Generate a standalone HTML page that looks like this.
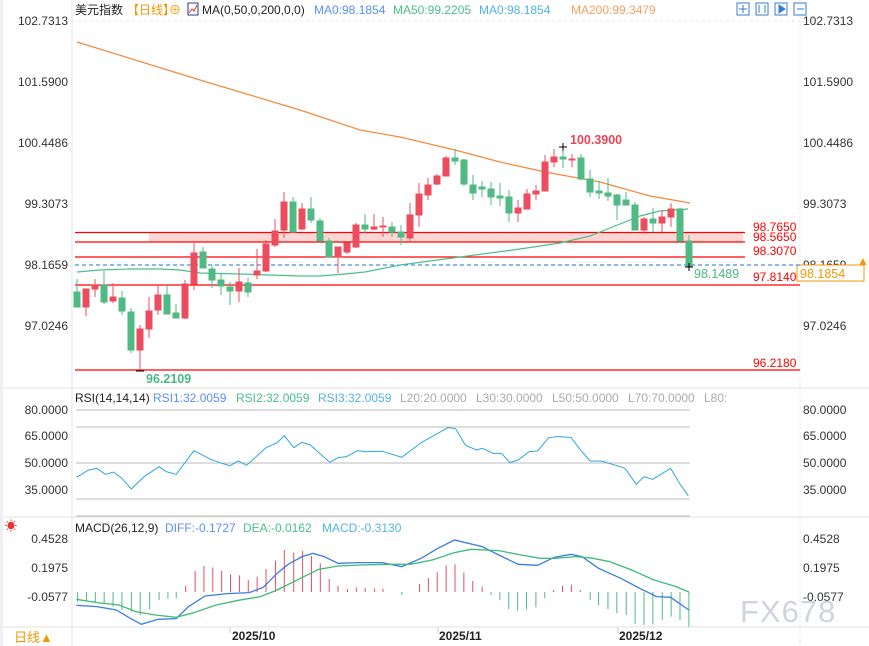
<!DOCTYPE html>
<html><head><meta charset="utf-8"><style>
body{margin:0;background:#fff;width:869px;height:646px;overflow:hidden;font-family:"Liberation Sans","Noto Sans CJK SC",sans-serif;}
svg{position:absolute;left:0;top:0}
text{font-family:"Liberation Sans","Noto Sans CJK SC",sans-serif;font-size:12px}
.ax{font-size:12.5px;fill:#333}
.ns{vector-effect:non-scaling-stroke}
</style></head><body>
<svg width="869" height="646" viewBox="0 0 869 646">
<line x1="72" y1="0" x2="72" y2="646" stroke="#e6e6e6"/>
<line x1="800" y1="0" x2="800" y2="646" stroke="#e6e6e6" stroke-dasharray="2,2"/>
<line x1="0" y1="388" x2="869" y2="388" stroke="#e0e0e0"/>
<line x1="0" y1="517" x2="869" y2="517" stroke="#e0e0e0"/>
<line x1="0" y1="627" x2="869" y2="627" stroke="#e0e0e0"/>
<line x1="72" y1="21" x2="800" y2="21" stroke="#e8e8e8" stroke-dasharray="3,3"/>
<rect x="0" y="0" width="3" height="646" fill="#eef0f4"/>

<text x="75" y="14" fill="#222">美元指数</text>
<text x="127" y="14" fill="#f39800">【日线】</text>
<text x="169" y="14" fill="#f39800">⊕</text>
<rect x="188" y="3" width="10" height="12" fill="none" stroke="#2a3a8a"/>
<polyline points="189,13 192,9 194,11 197,5" fill="none" stroke="#d33" stroke-width="1"/>
<text x="202" y="14" fill="#222">MA(0,50,0,200,0,0)</text>
<text x="314" y="14" fill="#5b8ff9">MA0:98.1854</text>
<text x="393" y="14" fill="#49c08a">MA50:99.2205</text>
<text x="479" y="14" fill="#53b3e4">MA0:98.1854</text>
<text x="571" y="14" fill="#f4a060">MA200:99.3479</text>
<g fill="none" stroke="#3a7bd5">
<rect x="737" y="3" width="12" height="12"/><rect x="756" y="3" width="12" height="12"/><rect x="775" y="3" width="12" height="12"/><rect x="794" y="3" width="12" height="12"/>
</g>
<g stroke="#3a7bd5"><line x1="743" y1="5" x2="743" y2="13"/><line x1="739" y1="9" x2="747" y2="9"/><line x1="759" y1="5" x2="759" y2="13"/><line x1="765" y1="5" x2="765" y2="13"/><polygon points="779,5 785,9 779,13" fill="#3a7bd5"/><line x1="797" y1="9" x2="804" y2="9"/></g>

<g class="ax" text-anchor="end">
<text x="68" y="25">102.7313</text><text x="68" y="86">101.5900</text><text x="68" y="147">100.4486</text><text x="68" y="208">99.3073</text><text x="68" y="269">98.1659</text><text x="68" y="330">97.0246</text>
</g>
<g class="ax">
<text x="803" y="25">102.7313</text><text x="803" y="86">101.5900</text><text x="803" y="147">100.4486</text><text x="803" y="208">99.3073</text><text x="803" y="269">98.1659</text><text x="803" y="330">97.0246</text>
</g>
<rect x="797" y="265" width="67" height="16" fill="#fff" stroke="#f39800"/>
<text x="800" y="278" class="ax" style="fill:#f39800">98.1854</text>
<text x="857" y="265" fill="#f39800" font-size="10">▲</text>

<rect x="149" y="232" width="594" height="10" fill="#ffd6d6"/>
<g stroke="#f00" stroke-width="1.2">
<line x1="75" y1="232.5" x2="745" y2="232.5"/><line x1="75" y1="242" x2="745" y2="242"/><line x1="75" y1="257" x2="745" y2="257"/><line x1="75" y1="285" x2="800" y2="285"/><line x1="75" y1="370" x2="800" y2="370"/>
</g>
<line x1="75" y1="265" x2="800" y2="265" stroke="#1e6fd9" stroke-dasharray="4,3"/>
<g class="ax">
<text x="753" y="231" style="fill:#f00">98.7650</text><text x="753" y="241" style="fill:#f00">98.5650</text><text x="753" y="255" style="fill:#f00">98.3070</text><text x="753" y="281" style="fill:#f00">97.8140</text><text x="753" y="367" style="fill:#f00">96.2180</text>
</g>

<polyline fill="none" stroke="#f4893a" stroke-width="1.2" points="77,42 200,80 300,110 360,130 400,137 455,150 500,162 545,172 600,182 650,196 690,203"/>
<polyline fill="none" stroke="#49c08a" stroke-width="1.2" points="77,272 100,270 130,269 160,269 180,270 200,273 240,274 300,276 320,276 345,274 365,272 400,265 460,257 520,249 560,243 590,236 615,226 640,216 660,211 688,209"/>

<g>
<g stroke="#4fba83" fill="#4fba83">
<line x1="77" y1="279" x2="77" y2="307"/><rect x="74" y="292" width="6" height="15"/>
<line x1="104" y1="271" x2="104" y2="304"/><rect x="101" y="285" width="6" height="17"/>
<line x1="122" y1="291" x2="122" y2="315"/><rect x="119" y="298" width="6" height="13"/>
<line x1="131" y1="308" x2="131" y2="353"/><rect x="128" y="312" width="6" height="38"/>
<line x1="167" y1="285" x2="167" y2="314"/><rect x="164" y="295" width="6" height="19"/>
<line x1="176" y1="304" x2="176" y2="318"/><rect x="173" y="313" width="6" height="5"/>
<line x1="203" y1="247" x2="203" y2="268"/><rect x="200" y="252" width="6" height="16"/>
<line x1="212" y1="266" x2="212" y2="288"/><rect x="209" y="269" width="6" height="11"/>
<line x1="221" y1="273" x2="221" y2="295"/><rect x="218" y="280" width="6" height="6"/>
<line x1="230" y1="282" x2="230" y2="305"/><rect x="227" y="287" width="6" height="4"/>
<line x1="248" y1="278" x2="248" y2="297"/><rect x="245" y="283" width="6" height="9"/>
<line x1="293" y1="197" x2="293" y2="233"/><rect x="290" y="202" width="6" height="30"/>
<line x1="311" y1="197" x2="311" y2="223"/><rect x="308" y="209" width="6" height="11"/>
<line x1="320" y1="218" x2="320" y2="242"/><rect x="317" y="221" width="6" height="20"/>
<line x1="329" y1="238" x2="329" y2="258"/><rect x="326" y="241" width="6" height="16"/>
<line x1="365" y1="214" x2="365" y2="234"/><rect x="362" y="225" width="6" height="4"/>
<line x1="392" y1="222" x2="392" y2="237"/><rect x="389" y="227" width="6" height="5"/>
<line x1="401" y1="225" x2="401" y2="245"/><rect x="398" y="232" width="6" height="5"/>
<line x1="455" y1="149" x2="455" y2="165"/><rect x="452" y="158" width="6" height="3"/>
<line x1="464" y1="159" x2="464" y2="186"/><rect x="461" y="160" width="6" height="24"/>
<line x1="473" y1="175" x2="473" y2="200"/><rect x="470" y="185" width="6" height="8"/>
<line x1="482" y1="181" x2="482" y2="197"/><rect x="479" y="187" width="6" height="2"/>
<line x1="491" y1="182" x2="491" y2="205"/><rect x="488" y="189" width="6" height="8"/>
<line x1="500" y1="183" x2="500" y2="206"/><rect x="497" y="196" width="6" height="2"/>
<line x1="509" y1="190" x2="509" y2="222"/><rect x="506" y="197" width="6" height="16"/>
<line x1="563" y1="147" x2="563" y2="168"/><rect x="560" y="157" width="6" height="2"/>
<line x1="581" y1="154" x2="581" y2="180"/><rect x="578" y="158" width="6" height="21"/>
<line x1="590" y1="170" x2="590" y2="197"/><rect x="587" y="179" width="6" height="13"/>
<line x1="599" y1="181" x2="599" y2="199"/><rect x="596" y="191" width="6" height="2"/>
<line x1="608" y1="178" x2="608" y2="201"/><rect x="605" y="193" width="6" height="3"/>
<line x1="617" y1="194" x2="617" y2="220"/><rect x="614" y="195" width="6" height="10"/>
<line x1="626" y1="192" x2="626" y2="205"/><rect x="623" y="200" width="6" height="5"/>
<line x1="635" y1="202" x2="635" y2="230"/><rect x="632" y="205" width="6" height="25"/>
<line x1="653" y1="208" x2="653" y2="232"/><rect x="650" y="219" width="6" height="4"/>
<line x1="680" y1="208" x2="680" y2="243"/><rect x="677" y="209" width="6" height="32"/>
<line x1="689" y1="235" x2="689" y2="267"/><rect x="686" y="241" width="6" height="25"/>
</g>
<g stroke="#ec4d5e" fill="#ec4d5e">
<line x1="86" y1="289" x2="86" y2="316"/><rect x="83" y="289" width="6" height="18"/>
<line x1="95" y1="279" x2="95" y2="297"/><rect x="92" y="285" width="6" height="4"/>
<line x1="113" y1="283" x2="113" y2="303"/><rect x="110" y="297" width="6" height="4"/>
<line x1="140" y1="325" x2="140" y2="371"/><rect x="137" y="329" width="6" height="21"/>
<line x1="149" y1="297" x2="149" y2="338"/><rect x="146" y="311" width="6" height="18"/>
<line x1="158" y1="285" x2="158" y2="315"/><rect x="155" y="295" width="6" height="15"/>
<line x1="185" y1="280" x2="185" y2="319"/><rect x="182" y="284" width="6" height="34"/>
<line x1="194" y1="243" x2="194" y2="290"/><rect x="191" y="253" width="6" height="31"/>
<line x1="239" y1="268" x2="239" y2="302"/><rect x="236" y="282" width="6" height="9"/>
<line x1="257" y1="249" x2="257" y2="279"/><rect x="254" y="271" width="6" height="4"/>
<line x1="266" y1="240" x2="266" y2="272"/><rect x="263" y="244" width="6" height="27"/>
<line x1="275" y1="219" x2="275" y2="247"/><rect x="272" y="231" width="6" height="14"/>
<line x1="284" y1="192" x2="284" y2="238"/><rect x="281" y="202" width="6" height="28"/>
<line x1="302" y1="203" x2="302" y2="230"/><rect x="299" y="209" width="6" height="20"/>
<line x1="338" y1="247" x2="338" y2="273"/><rect x="335" y="247" width="6" height="10"/>
<line x1="347" y1="241" x2="347" y2="254"/><rect x="344" y="243" width="6" height="9"/>
<line x1="356" y1="223" x2="356" y2="248"/><rect x="353" y="225" width="6" height="22"/>
<line x1="374" y1="214" x2="374" y2="230"/><rect x="371" y="227" width="6" height="2"/>
<line x1="383" y1="217" x2="383" y2="237"/><rect x="380" y="226" width="6" height="1"/>
<line x1="410" y1="203" x2="410" y2="242"/><rect x="407" y="215" width="6" height="23"/>
<line x1="419" y1="183" x2="419" y2="227"/><rect x="416" y="194" width="6" height="21"/>
<line x1="428" y1="178" x2="428" y2="200"/><rect x="425" y="185" width="6" height="10"/>
<line x1="437" y1="174" x2="437" y2="185"/><rect x="434" y="176" width="6" height="8"/>
<line x1="446" y1="156" x2="446" y2="176"/><rect x="443" y="158" width="6" height="18"/>
<line x1="518" y1="200" x2="518" y2="222"/><rect x="515" y="208" width="6" height="5"/>
<line x1="527" y1="189" x2="527" y2="209"/><rect x="524" y="194" width="6" height="15"/>
<line x1="536" y1="185" x2="536" y2="200"/><rect x="533" y="191" width="6" height="3"/>
<line x1="545" y1="155" x2="545" y2="191"/><rect x="542" y="162" width="6" height="29"/>
<line x1="554" y1="149" x2="554" y2="167"/><rect x="551" y="157" width="6" height="5"/>
<line x1="572" y1="154" x2="572" y2="167"/><rect x="569" y="159" width="6" height="1"/>
<line x1="644" y1="217" x2="644" y2="234"/><rect x="641" y="219" width="6" height="11"/>
<line x1="662" y1="210" x2="662" y2="232"/><rect x="659" y="217" width="6" height="6"/>
<line x1="671" y1="203" x2="671" y2="227"/><rect x="668" y="209" width="6" height="8"/>
</g>
</g>
<g stroke="#000"><line x1="559" y1="147" x2="567" y2="147"/><line x1="563" y1="143" x2="563" y2="151"/><line x1="136" y1="371" x2="144" y2="371"/><line x1="685" y1="267" x2="693" y2="267"/><line x1="689" y1="263" x2="689" y2="271"/></g>
<text x="570" y="144" fill="#e8445a" font-weight="bold" style="font-size:12.5px">100.3900</text>
<text x="146" y="383" fill="#49b885" font-weight="bold" style="font-size:12.5px">96.2109</text>
<text x="694" y="278" fill="#49b885" style="font-size:12.5px">98.1489</text>

<text x="75" y="402" fill="#222">RSI(14,14,14)</text>
<text x="153" y="402" fill="#5b8ff9">RSI1:32.0059</text>
<text x="236" y="402" fill="#49c08a">RSI2:32.0059</text>
<text x="318" y="402" fill="#53b3e4">RSI3:32.0059</text>
<text x="400" y="402" fill="#aaa">L20:20.0000</text>
<text x="476" y="402" fill="#aaa">L30:30.0000</text>
<text x="552" y="402" fill="#aaa">L50:50.0000</text>
<text x="628" y="402" fill="#aaa">L70:70.0000</text>
<text x="704" y="402" fill="#aaa">L80:</text>
<g class="ax" text-anchor="end"><text x="68" y="414">80.0000</text><text x="68" y="440">65.0000</text><text x="68" y="467">50.0000</text><text x="68" y="494">35.0000</text></g>
<g class="ax"><text x="803" y="414">80.0000</text><text x="803" y="440">65.0000</text><text x="803" y="467">50.0000</text><text x="803" y="494">35.0000</text></g>
<g stroke="#bbb"><line x1="76" y1="410" x2="690" y2="410"/><line x1="76" y1="427" x2="690" y2="427"/><line x1="76" y1="463" x2="690" y2="463"/><line x1="76" y1="499" x2="690" y2="499"/><line x1="76" y1="516" x2="690" y2="516"/></g>
<g transform="translate(0,380) scale(0.5542,0.3333)">
<polyline class="ns" fill="none" stroke="#2ea7e0" stroke-width="1" points="138,292 160,270 175,265 190,283 205,276 220,295 237,327 260,290 287,260 300,275 318,283 350,212 380,238 400,250 415,257 430,243 445,256 480,203 500,188 513,167 530,203 545,187 560,195 595,247 610,233 625,230 645,212 660,215 690,214 725,232 760,188 790,160 808,143 822,146 840,196 860,210 870,205 890,220 905,220 920,248 935,240 955,215 970,213 990,173 1005,170 1030,172 1050,215 1065,243 1085,243 1125,263 1130,270 1148,313 1162,290 1178,298 1210,265 1228,315 1242,347"/>
<path class="ns" stroke="#ec4d5e" stroke-width="1" d="M335 636V617M352 636V573M368 636V558M384 636V562M400 636V573M416 636V583M432 636V586M448 636V600M464 636V590M480 636V567M497 636V542M513 636V510M530 636V518M546 636V513M562 636V528M578 636V550M594 636V597M610 636V618M627 636V627M643 636V622M659 636V624M676 636V625M691 636V626M757 636V612M773 636V594M789 636V577M805 636V556M821 636V553M837 636V578M853 636V603M870 636V620M999 636V630M1015 636V617M1031 636V614M1047 636V630"/>
<path class="ns" stroke="#4fba83" stroke-width="1" d="M140 636V665M156 636V665M172 636V668M188 636V672M204 636V680M220 636V690M237 636V695M253 636V705M270 636V688M287 636V660M303 636V656M318 636V655M725 636V645M886 636V645M902 636V660M918 636V687M934 636V692M950 636V688M967 636V682M983 636V655M1065 636V660M1080 636V675M1097 636V688M1113 636V700M1130 636V705M1146 636V732M1162 636V735M1178 636V733M1195 636V720M1211 636V710M1227 636V720M1243 636V740"/>
<polyline class="ns" fill="none" stroke="#3b7de0" stroke-width="1.3" points="138,676 175,680 210,690 235,715 255,733 285,718 318,716 340,680 370,648 410,641 450,638 475,622 500,580 520,553 545,530 565,520 585,530 610,550 650,548 690,548 725,560 760,535 790,505 820,480 845,490 870,500 900,525 935,553 970,556 1000,532 1030,523 1050,530 1080,565 1120,595 1160,630 1185,650 1210,652 1243,690"/>
<polyline class="ns" fill="none" stroke="#3dbb78" stroke-width="1.3" points="138,658 175,668 215,675 245,695 280,705 318,712 350,698 390,675 430,661 470,650 500,630 540,597 575,568 610,558 650,555 700,553 740,553 780,540 820,518 850,508 900,512 940,525 975,535 1000,535 1040,530 1070,535 1100,545 1140,570 1180,600 1220,620 1243,636"/>
</g>
<text x="5" y="530" fill="#e33" font-size="12">☀</text>
<text x="75" y="532" fill="#222">MACD(26,12,9)</text>
<text x="165" y="532" fill="#5b8ff9">DIFF:-0.1727</text>
<text x="243" y="532" fill="#49c08a">DEA:-0.0162</text>
<text x="322" y="532" fill="#53b3e4">MACD:-0.3130</text>
<g class="ax" text-anchor="end"><text x="68" y="543">0.4528</text><text x="68" y="572">0.1975</text><text x="68" y="601">-0.0577</text></g>
<g class="ax"><text x="803" y="543">0.4528</text><text x="803" y="572">0.1975</text><text x="803" y="601">-0.0577</text></g>
<text x="740" y="622" fill="#d0d4dc" style="font-size:31px;letter-spacing:1px">FX678</text>

<g stroke="#ccc"><line x1="230" y1="627" x2="230" y2="633"/><line x1="438" y1="627" x2="438" y2="633"/><line x1="618" y1="627" x2="618" y2="633"/></g>
<g font-weight="bold" style="font-size:12px" fill="#222"><text x="232" y="640">2025/10</text><text x="439" y="640">2025/11</text><text x="619" y="640">2025/12</text></g>
<text x="14" y="642" fill="#f39800" style="font-size:13px">日线▲</text>
</svg>
</body></html>
